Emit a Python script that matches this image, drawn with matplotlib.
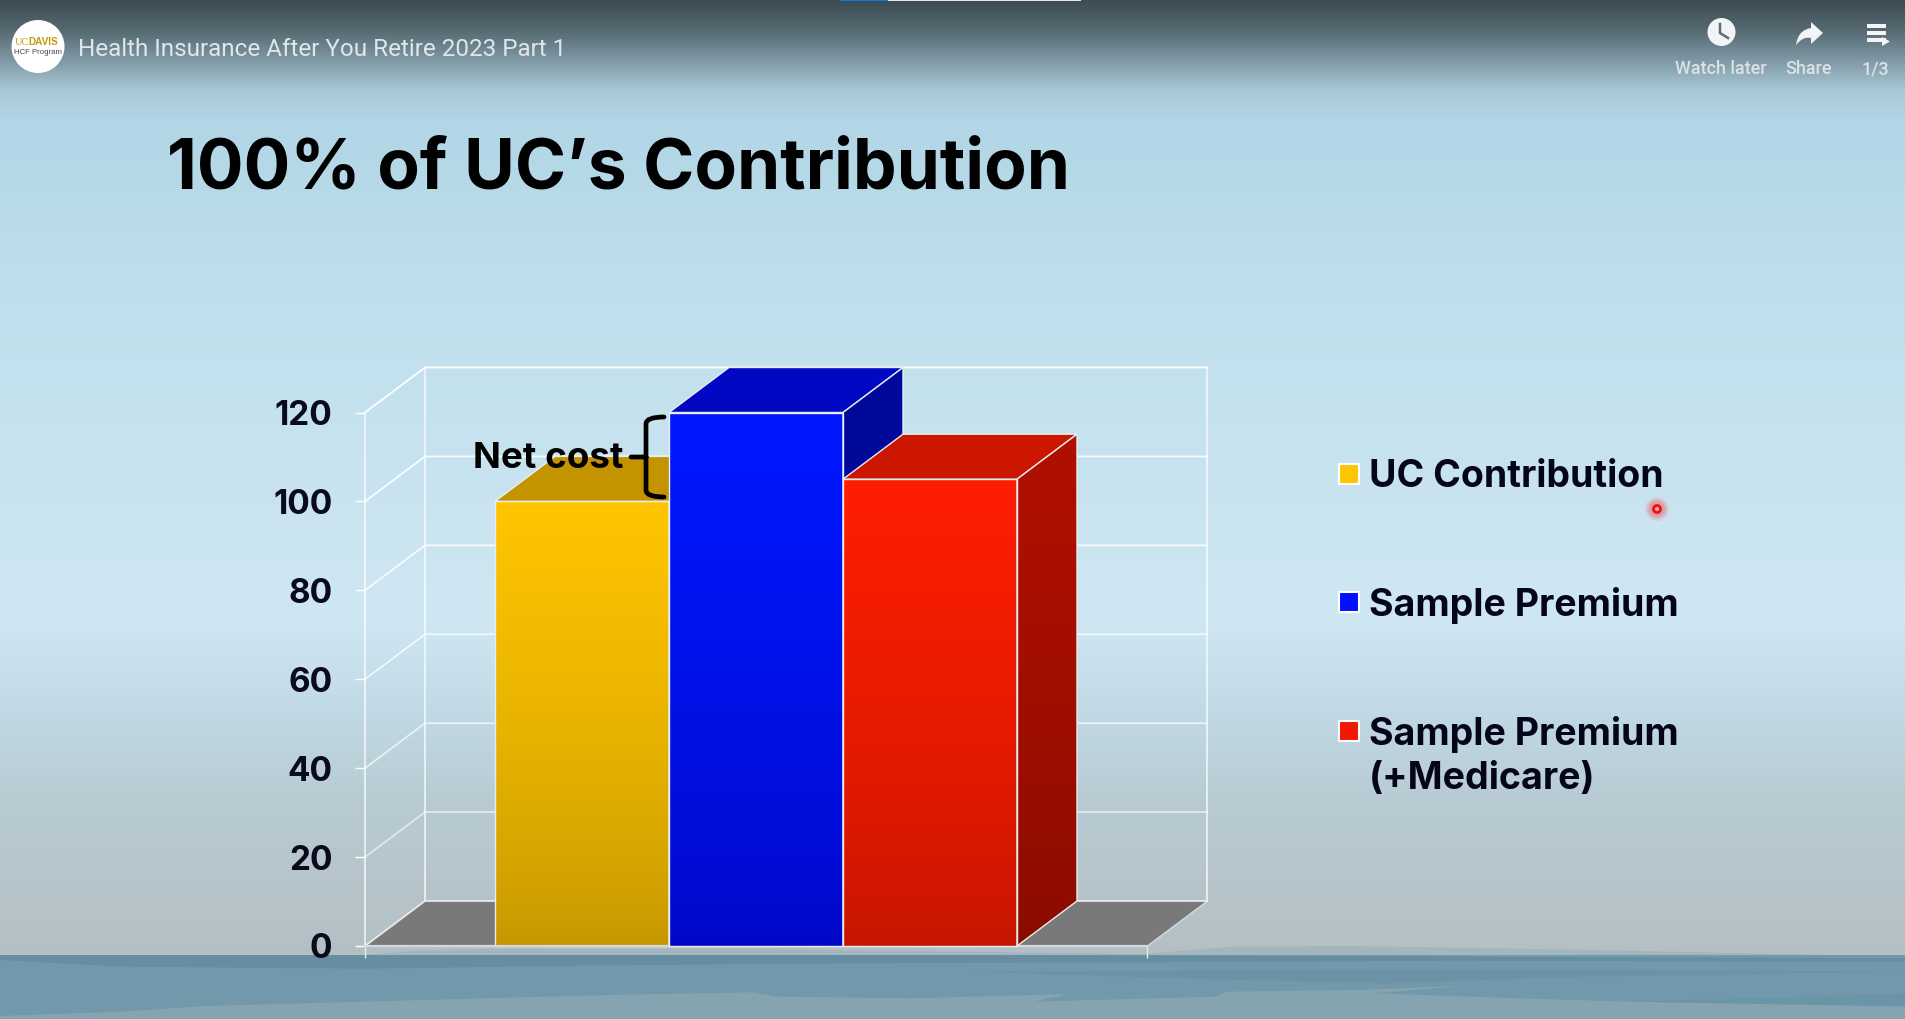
import numpy as np
import matplotlib
matplotlib.use("Agg")
import matplotlib.pyplot as plt
from matplotlib.colors import LinearSegmentedColormap, to_rgb
from matplotlib.patches import Circle, Polygon, PathPatch, Rectangle
from matplotlib.path import Path

W, H = 1906, 1019

categories = ["UC Contribution", "Sample Premium", "Sample Premium\n(+Medicare)"]
values = [100, 120, 105]
yticks = [0, 20, 40, 60, 80, 100, 120]

front_top = ["#ffc500", "#0018ff", "#ff1e00"]
front_bottom = ["#c49600", "#0008c6", "#c41500"]
top_face = ["#c49300", "#0008c4", "#cc1600"]
side_top = ["#a07800", "#000a9c", "#b01000"]
side_bottom = ["#806000", "#000880", "#880b00"]

bg_y = [0, 30, 60, 90, 120, 300, 620, 700, 800, 960]
bg_c = ["#3d4b52", "#566a72", "#7f99a5", "#aac8d6", "#b2d6e6", "#bfdfec", "#cfe7f2",
        "#c2dbe6", "#b8cbd3", "#b4bfc3"]


def px_box(l, t, r, b):
    return [l / W, 1 - b / H, (r - l) / W, (b - t) / H]


def water(pts, color):
    # traced outline of one band of the sea
    xy = [(x / 0.823, 930 + y / 3) for x, y in pts]
    bg.add_patch(Polygon(xy, closed=True, fc=color, ec="none"))


fig = plt.figure(figsize=(W / 100, H / 100), dpi=100)

# background
bg = fig.add_axes([0, 0, 1, 1], zorder=0)
rows = np.arange(H)
rgb = np.array([to_rgb(c) for c in bg_c])
grad = np.stack([np.interp(rows, bg_y, rgb[:, k]) for k in range(3)], axis=1)
bg.imshow(grad[:, None, :], extent=(0, W, H, 0), aspect="auto")
bg.set_xlim(0, W)
bg.set_ylim(H, 0)
bg.axis("off")

water([(0, 75), (1568, 75), (1568, 267), (0, 267)], "#7299ab")
water([(300, 75), (340, 62), (420, 55), (640, 58), (800, 65), (1000, 75)], "#a3b6bd")
water([(930, 75), (1015, 50), (1110, 48), (1280, 58), (1470, 72), (1500, 75)], "#a3b6bd")
water([(0, 75), (0, 90), (100, 110), (300, 116), (500, 106), (700, 100), (1000, 96),
       (1200, 92), (1568, 96), (1568, 85), (1200, 80), (900, 75)], "#668da0")
water([(800, 125), (1000, 148), (1140, 160), (1300, 140), (1568, 125), (1200, 118)], "#6c93a5")
water([(0, 258), (100, 245), (170, 228), (350, 210), (500, 195), (620, 187), (640, 200),
       (750, 205), (880, 192), (850, 215), (1000, 200), (1010, 185), (1120, 180), (1205, 167),
       (1130, 190), (1250, 205), (1340, 215), (1568, 230), (1568, 267), (0, 267)], "#86a4b0")
water([(1340, 215), (1450, 205), (1568, 190), (1568, 228)], "#6a95a9")

# chart
ax = fig.add_axes(px_box(365, 412.5, 1147.5, 946), zorder=1)
ax.patch.set_visible(False)
unit_x = 174.0
x0 = (582 - 365) / unit_x
xlim = (-x0, (1147.5 - 365) / unit_x - x0)
ylim = (0, 120)
dx = 60 / unit_x
dy = 45 / ((946 - 412.5) / 120)
line = "#ffffffbb"

ax.add_patch(Polygon([(xlim[0], 0), (xlim[1], 0), (xlim[1] + dx, dy), (xlim[0] + dx, dy)],
                     closed=True, fc="#797979", ec="#d8dcde", lw=1, clip_on=False, zorder=1))
for t in yticks:
    ax.plot([xlim[0], xlim[0] + dx, xlim[1] + dx], [t, t + dy, t + dy], color="white",
            alpha=0.5 + 0.5 * t / 120, lw=1.3, clip_on=False, zorder=0.5 if t else 1.2)
ax.plot([xlim[0] + dx] * 2, [dy, 120 + dy], color=line, lw=1.3, clip_on=False, zorder=0.5)
ax.plot([xlim[1] + dx] * 2, [dy, 120 + dy], color=line, lw=1.3, clip_on=False, zorder=0.5)

ramp = np.linspace(1, 0, 256)[:, None]
for i, v in enumerate(values):
    l, r = i - 0.5, i + 0.5
    z = 2 + i
    cm = LinearSegmentedColormap.from_list("f", [front_bottom[i], front_top[i]])
    ax.imshow(ramp ** 0.7, cmap=cm, vmin=0, vmax=1, aspect="auto",
              extent=(l, r, 0, v), zorder=z)
    ax.add_patch(Polygon([(l, v), (r, v), (r + dx, v + dy), (l + dx, v + dy)], closed=True,
                         fc=top_face[i], ec="#e8eef0", lw=1, clip_on=False, zorder=z))
    cm2 = LinearSegmentedColormap.from_list("s", [side_bottom[i], side_top[i]])
    side = Polygon([(r, 0), (r + dx, dy), (r + dx, v + dy), (r, v)], closed=True,
                   fc="none", ec="#e8eef0", lw=1, clip_on=False, zorder=z + 0.1)
    ax.add_patch(side)
    im = ax.imshow(ramp ** 0.7, cmap=cm2, vmin=0, vmax=1, aspect="auto",
                   extent=(r, r + dx, 0, v + dy), zorder=z)
    im.set_clip_path(side)
    im.set_clip_box(fig.bbox)
    ax.bar(i, v, width=1, fill=False, edgecolor="#e8eef0", lw=1, zorder=z + 0.2, clip_on=False)

ax.set_xlim(*xlim)
ax.set_ylim(*ylim)
ax.set_yticks(yticks)
ax.set_xticks(list(xlim))
ax.set_xticklabels([])
ax.tick_params(axis="y", length=7.5, width=1, color="#ffffff", pad=16, labelsize=24,
               labelcolor="#0a0a1e")
ax.tick_params(axis="x", length=8.5, width=1, color="#e6eaec")
for lab in ax.get_yticklabels():
    lab.set_fontfamily("Inter")
    lab.set_fontweight("bold")
ax.spines["top"].set_visible(False)
ax.spines["right"].set_visible(False)
ax.spines["left"].set_color(line)
ax.spines["left"].set_linewidth(1.3)
ax.spines["bottom"].set_color("#d4d8da")
ax.spines["bottom"].set_linewidth(1.6)

# overlay in pixel coordinates: slide text and player controls
ui = fig.add_axes([0, 0, 1, 1], zorder=2)
ui.set_xlim(0, W)
ui.set_ylim(H, 0)
ui.axis("off")

ui.text(167, 188, "100% of UC\u2019s Contribution", fontsize=50, fontweight="bold",
        family="Inter", color="black", va="baseline", ha="left")

ui.text(473, 459, "Net cost", fontsize=26.5, fontweight="bold", family="Inter",
        color="black", va="center", ha="left", zorder=5)
brace = Path([(631, 457), (646, 457), (646, 457), (646, 445), (646, 424), (646, 417), (664, 417),
              (646, 457), (646, 490), (646, 497), (664, 497)],
             [Path.MOVETO, Path.LINETO, Path.MOVETO, Path.LINETO, Path.LINETO, Path.CURVE3, Path.CURVE3,
              Path.MOVETO, Path.LINETO, Path.CURVE3, Path.CURVE3])
ui.add_patch(PathPatch(brace, fc="none", ec="black", lw=3.4, capstyle="round"))

legend_y = [474, 602, 731]
legend_c = ["#ffc500", "#0010ff", "#f01800"]
for lab, y, c in zip(categories, legend_y, legend_c):
    ui.add_patch(Rectangle((1339.5, y - 10), 19.5, 20, fc=c, ec="white", lw=1.5))
    ui.text(1369, y - 15, lab, fontsize=27, fontweight="bold", family="Inter", color="#05051a",
            va="top", ha="left", linespacing=1.3)

# mouse pointer highlight
for r, a in [(12, 0.12), (10, 0.18), (8, 0.25)]:
    ui.add_patch(Circle((1657, 509), r, fc="#f05050", ec="none", alpha=a))
ui.add_patch(Circle((1657, 509), 3.5, fc="#ffb0a0", ec="#f01010", lw=2))

# player bar
ui.add_patch(Rectangle((840, 0), 48, 1.2, fc="#0a78d8", ec="none"))
ui.add_patch(Rectangle((888, 0), 193, 1.2, fc="#e6e6e6", ec="none"))
ui.add_patch(Circle((38, 46.5), 26.5, fc="white", ec="none"))
ui.text(29, 42, "UC", fontsize=7.5, family="Liberation Serif", color="#c49a10", ha="right", va="center")
ui.text(28, 42, "DAVIS", fontsize=7.2, fontweight="bold", family="Liberation Sans", color="#c49a10",
        ha="left", va="center")
ui.text(38, 52, "HCF Program", fontsize=5.6, family="Liberation Sans", color="#444444", ha="center",
        va="center")
ui.text(78, 49, "Health Insurance After You Retire 2023 Part 1", fontsize=17.5, family="Roboto",
        color="#e0e6e9", ha="left", va="center")

ui_text = "#dbe2e5"
for lab, x in [("Watch later", 1720.5), ("Share", 1809), ("1/3", 1875)]:
    ui.text(x, 69, lab, fontsize=13, family="Roboto", fontweight="medium", color=ui_text, ha="center",
            va="center")

ui.add_patch(Circle((1721.5, 32), 14, fc="#f2f4f5", ec="none"))
ui.plot([1720, 1720, 1728], [24, 33, 38], color="#5a6e78", lw=1.8)
share = Path([(1823, 33), (1811, 22), (1811, 28), (1798, 30), (1796, 45), (1803, 36), (1811, 38), (1811, 44), (1823, 33)],
             [Path.MOVETO, Path.LINETO, Path.LINETO, Path.CURVE3, Path.CURVE3, Path.CURVE3, Path.CURVE3, Path.LINETO, Path.LINETO])
ui.add_patch(PathPatch(share, fc="#f2f4f5", ec="none"))
for y in [26, 33, 40]:
    ui.add_patch(Rectangle((1867, y - 1.7), 19, 3.4, fc="#f2f4f5", ec="none"))
ui.add_patch(Polygon([(1882, 37), (1882, 46), (1890, 41.5)], closed=True, fc="#f2f4f5", ec="none"))

fig.savefig("out.png", dpi=100)
